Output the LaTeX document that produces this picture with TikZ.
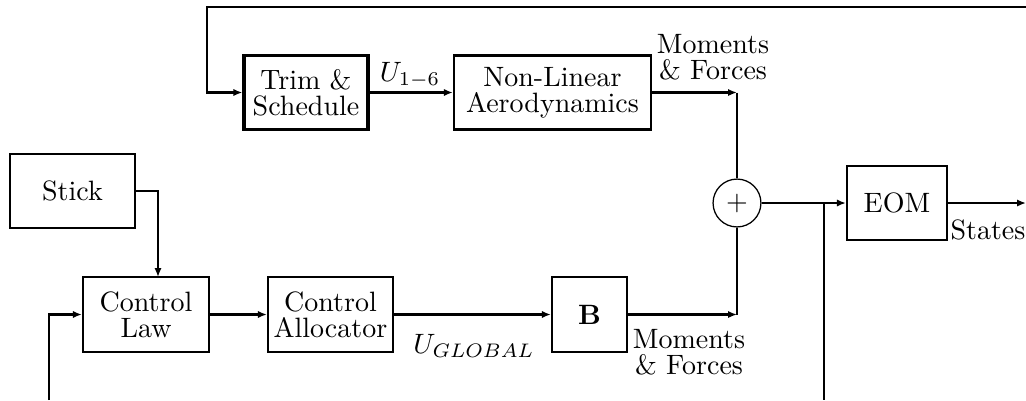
\documentclass[tikz,border=0pt]{standalone}
\usetikzlibrary{arrows.meta}
\begin{document}
\begin{tikzpicture}[x=0.3571pt,y=-0.3571pt,
  blk/.style={draw,line width=0.8pt,align=center,inner sep=0pt,font={\fontsize{10}{9.3}\selectfont}},
  lbl/.style={align=center,inner sep=0pt,font={\fontsize{10}{9.3}\selectfont}},
  arr/.style={line width=0.8pt,-{Latex[length=3.2pt,width=2.6pt]}},
  ln/.style={line width=0.8pt}]
\useasboundingbox (0,0) rectangle (1026,400);
% blocks
\node[blk,line width=1.1pt,minimum width=44.3pt,minimum height=26.4pt] (trim) at (306,92.5) {Trim \&\\Schedule};
\node[blk,minimum width=70.4pt,minimum height=26.4pt] (nl) at (552.5,92.5) {Non-Linear\\Aerodynamics};
\node[blk,minimum width=44.6pt,minimum height=26.4pt] (stick) at (72.5,191) {Stick};
\node[blk,minimum width=45pt,minimum height=26.8pt] (cl) at (146,314.5) {Control\\Law};
\node[blk,minimum width=44.6pt,minimum height=26.8pt] (ca) at (330.5,314.5) {Control\\Allocator};
\node[blk,minimum width=26.8pt,minimum height=26.8pt] (b) at (589.5,314.5) {$\mathbf{B}$};
\node[blk,minimum width=35.7pt,minimum height=26.4pt] (eom) at (897,203) {EOM};
\node[draw,circle,line width=0.45pt,minimum size=17.1pt,inner sep=0pt] (sum) at (737,203) {$+$};
% labels
\node[lbl] (u16) at (410,75) {$U_{1-6}$};
\node[lbl] (mf1) at (713,57) {Moments\\\& Forces};
\node[lbl] (mf2) at (689,352) {Moments\\\& Forces};
\node[lbl,anchor=west] (st) at (950,230) {States};
\node[lbl] (ug) at (474,346) {$U_{GLOBAL}$};
% coordinates
\coordinate (topR) at (1026,7);
\coordinate (tl) at (207,7);
\coordinate (j1) at (sum.north |- nl.east);
\coordinate (j2) at (sum.south |- b.east);
\coordinate (br) at (824,203);
\coordinate (brb) at (824,400);
\coordinate (out) at (1026,203);
\coordinate (s1) at (158,277);
\coordinate (fb) at (49,400);
% connectors
\draw[arr] (topR) -- (tl) |- (trim.west);
\draw[arr] (trim.east) -- (nl.west);
\draw[arr] (nl.east) -- (j1);
\draw[ln] (j1) -- (sum.north);
\draw[arr] (b.east) -- (j2);
\draw[ln] (j2) -- (sum.south);
\draw[arr] (sum.east) -- (eom.west);
\draw[ln] (br) -- (brb);
\draw[arr] (eom.east) -- (out);
\draw[arr] (stick.east) -| (s1);
\draw[arr] (fb) |- (cl.west);
\draw[arr] (cl.east) -- (ca.west);
\draw[arr] (ca.east) -- (b.west);
\end{tikzpicture}
\end{document}
